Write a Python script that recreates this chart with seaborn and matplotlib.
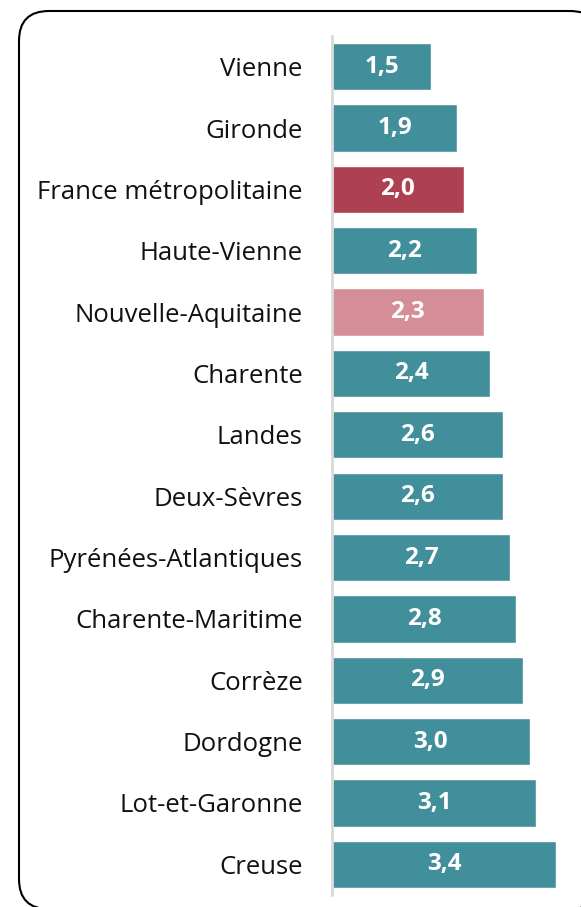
import matplotlib
matplotlib.use("Agg")
import matplotlib.pyplot as plt
import seaborn as sns
from matplotlib.patches import FancyBboxPatch

# Data
departements = [
    "Vienne", "Gironde", "France métropolitaine", "Haute-Vienne",
    "Nouvelle-Aquitaine", "Charente", "Landes", "Deux-Sèvres",
    "Pyrénées-Atlantiques", "Charente-Maritime", "Corrèze", "Dordogne",
    "Lot-et-Garonne", "Creuse",
]
valeurs = [1.5, 1.9, 2.0, 2.2, 2.3, 2.4, 2.6, 2.6, 2.7, 2.8, 2.9, 3.0, 3.1, 3.4]

teal = "#428F9C"
palette = {d: teal for d in departements}
palette["France métropolitaine"] = "#AD4152"
palette["Nouvelle-Aquitaine"] = "#D58E98"

sns.set_style("white")
plt.rcParams['font.family'] = ['Open Sans', 'DejaVu Sans']

fig = plt.figure(figsize=(5.81, 9.07), dpi=100)

# rounded frame, drawn in pixel coordinates (y up); runs off the right and bottom edges
# (white fill so agg doesn't clip the outline along the canvas border)
bg = fig.add_axes([0, 0, 1, 1], zorder=-1)
bg.set_xlim(0, 581)
bg.set_ylim(0, 907)
bg.axis("off")
bg.add_patch(FancyBboxPatch((19, -2), 581, 898,
                            boxstyle="round,pad=0,rounding_size=30",
                            facecolor="white", edgecolor="black", linewidth=1.5,
                            clip_on=False))

ax = fig.add_axes([332 / 581, 12 / 907, 230.6 / 581, 859 / 907])
ax.patch.set_alpha(0)

sns.barplot(x=valeurs, y=departements, hue=departements, palette=palette,
            legend=False, orient="h", width=0.77, saturation=1, ax=ax)

# value labels, French decimal comma
for cont in ax.containers:
    ax.bar_label(cont, labels=[f"{v.get_width():.1f}".replace(".", ",") for v in cont],
                 label_type="center", color="white", fontsize=17.5, fontweight="bold")

ax.set_xlim(0, 3.5)
ax.set_ylim(13.5, -0.5)
ax.set_xlabel("")
ax.set_ylabel("")
ax.set_xticks([])
ax.tick_params(axis="y", length=0, pad=21, labelsize=18.5, labelcolor="#111111")
for s in ["top", "right", "bottom"]:
    ax.spines[s].set_visible(False)
ax.spines["left"].set_color("#D9D9D9")
ax.spines["left"].set_linewidth(2)

fig.savefig("out.png", dpi=100)
